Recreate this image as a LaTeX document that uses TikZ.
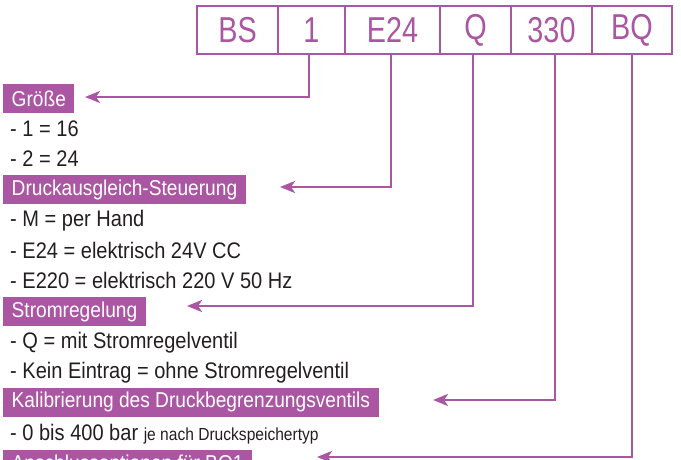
\documentclass[tikz,border=0pt]{standalone}
\usepackage{fontspec}
\setmainfont[FakeStretch=0.89]{Liberation Sans}
\newfontfamily\boxfont[FakeStretch=0.8]{Liberation Sans}
\usetikzlibrary{arrows.meta}
\definecolor{vio}{RGB}{170,86,162}
\definecolor{ink}{RGB}{35,31,32}
\tikzset{
  codebox/.style={draw=vio, line width=2.6pt, text=vio, minimum height=48pt, inner sep=0pt,
    font=\boxfont\fontsize{36}{38}\selectfont},
  lbl/.style={fill=vio, text=white, anchor=west, minimum height=29pt, inner ysep=0pt, inner xsep=8.5pt,
    font=\fontsize{21.5}{23}\selectfont},
  item/.style={text=ink, anchor=west, inner sep=0pt, font=\fontsize{22.5}{24}\selectfont},
  conn/.style={draw=vio, line width=2.6pt, -{Stealth[length=15pt,width=12pt,inset=4pt]}},
}
\begin{document}
\begin{tikzpicture}[x=1pt,y=-1pt]
\useasboundingbox (0,0) rectangle (681,460);
\clip (0,0) rectangle (681,460);
% code boxes
\node[codebox, minimum width=81pt] (bs)  at (237.5,30) {BS};
\node[codebox, minimum width=67pt] (b1)  at (311.5,30) {1};
\node[codebox, minimum width=95pt] (be)  at (392.5,30) {E24};
\node[codebox, minimum width=71pt] (bq)  at (475.5,30) {Q};
\node[codebox, minimum width=81pt] (b3)  at (551.5,30) {330};
\node[codebox, minimum width=80pt] (bbq) at (632,30) {BQ};
% labels
\node[lbl] (l1) at (3,99) {Größe};
\node[item] (i11) at (10,129) {- 1 = 16};
\node[item] (i12) at (10,159) {- 2 = 24};
\node[lbl] (l2) at (3,189.5) {Druckausgleich-Steuerung};
\node[item] (i21) at (10,221) {- M = per Hand};
\node[item] (i22) at (10,250.5) {- E24 = elektrisch 24V CC};
\node[item] (i23) at (10,280.5) {- E220 = elektrisch 220 V 50 Hz};
\node[lbl] (l3) at (3,311.5) {Stromregelung};
\node[item] (i31) at (10,342.5) {- Q = mit Stromregelventil};
\node[item] (i32) at (10,372.5) {- Kein Eintrag = ohne Stromregelventil};
\node[lbl] (l4) at (3,402) {Kalibrierung des Druckbegrenzungsventils};
\node[item] (i41) at (10,434) {- 0 bis 400 bar {\fontsize{17.5}{19}\selectfont je nach Druckspeichertyp}};
\node[lbl] (l5) at (3,464.5) {Anschlussoptionen für BQ1};
% arrow tips
\coordinate (t1) at (85,97);
\coordinate (t2) at (280,187);
\coordinate (t3) at (187,306);
\coordinate (t4) at (433,400);
\coordinate (t5) at (317,457);
% connectors
\draw[conn] ([xshift=-2.5pt]b1.south) |- (t1);
\draw[conn] ([xshift=-1.5pt]be.south) |- (t2);
\draw[conn] ([xshift=-2.5pt]bq.south) |- (t3);
\draw[conn] ([xshift=3.5pt]b3.south) |- (t4);
\draw[conn] (bbq.south) |- (t5);
\end{tikzpicture}
\end{document}
